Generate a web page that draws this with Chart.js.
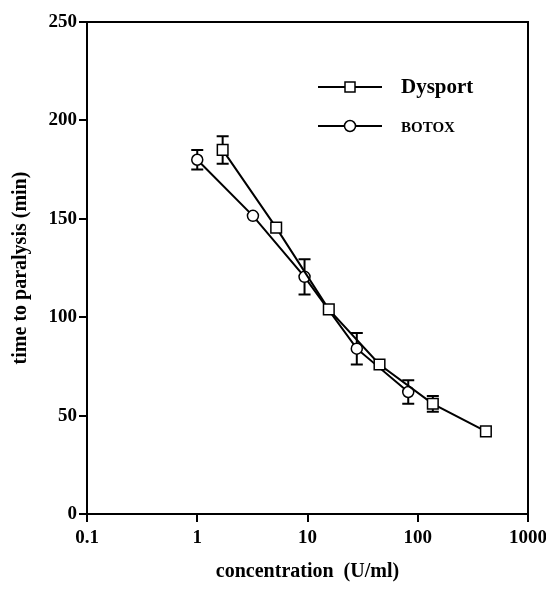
<!DOCTYPE html>
<html>
<head>
<meta charset="utf-8">
<script src="https://cdn.jsdelivr.net/npm/chart.js@4/dist/chart.umd.min.js"></script>
<style>
  html, body { margin: 0; padding: 0; background: #fff; }
  #wrap { width: 546px; height: 592px; }
</style>
</head>
<body>
<div id="wrap"><canvas id="c" width="546" height="592"></canvas></div>
<script>
// ---- data ----
const xTicks = [0.1, 1, 10, 100, 1000];
const yTicks = [0, 50, 100, 150, 200, 250];

const dysportConc = [1.7, 5.2, 15.6, 45, 137, 415];
const dysportTime = [185, 145.5, 104, 76, 56, 42];
const dysportErr  = [7, 0, 0, 0, 4, 0];

const botoxConc = [1.0, 3.2, 9.4, 28, 82];
const botoxTime = [180, 151.5, 120.5, 84, 62];
const botoxErr  = [5, 0, 9, 8, 6];

const seriesNames = ['Dysport', 'BOTOX'];

const FONT = '"Liberation Serif", "Times New Roman", serif';

function pts(xs, ys) { return xs.map((x, i) => ({ x: x, y: ys[i] })); }

const frame = {
  id: 'frame',
  afterDraw(chart) {
    const { ctx, chartArea: a } = chart;
    ctx.save();
    ctx.strokeStyle = '#000';
    ctx.lineWidth = 2;
    ctx.beginPath();
    ctx.moveTo(a.left, a.top);
    ctx.lineTo(a.right, a.top);
    ctx.lineTo(a.right, a.bottom);
    ctx.stroke();
    ctx.restore();
  }
};

const errorBars = {
  id: 'errorBars',
  beforeDatasetsDraw(chart) {
    const { ctx } = chart;
    const xs = chart.scales.x, ys = chart.scales.y;
    const sets = [[dysportConc, dysportTime, dysportErr], [botoxConc, botoxTime, botoxErr]];
    ctx.save();
    ctx.strokeStyle = '#000';
    ctx.lineWidth = 2;
    sets.forEach(([cx, ty, er]) => {
      cx.forEach((c, i) => {
        if (!er[i]) return;
        const px = xs.getPixelForValue(c);
        const top = ys.getPixelForValue(ty[i] + er[i]);
        const bot = ys.getPixelForValue(ty[i] - er[i]);
        ctx.beginPath();
        ctx.moveTo(px, top); ctx.lineTo(px, bot);
        ctx.moveTo(px - 6, top); ctx.lineTo(px + 6, top);
        ctx.moveTo(px - 6, bot); ctx.lineTo(px + 6, bot);
        ctx.stroke();
      });
    });
    ctx.restore();
  }
};

const legendBox = {
  id: 'legendBox',
  afterDraw(chart) {
    const { ctx } = chart;
    ctx.save();
    ctx.strokeStyle = '#000';
    ctx.lineWidth = 2;
    ctx.fillStyle = '#000';
    // Dysport
    let y = 87;
    ctx.beginPath(); ctx.moveTo(318, y); ctx.lineTo(382, y); ctx.stroke();
    ctx.fillStyle = '#fff';
    ctx.fillRect(345, y - 5, 10, 10);
    ctx.lineWidth = 1.5;
    ctx.strokeRect(345, y - 5, 10, 10);
    ctx.fillStyle = '#000';
    ctx.font = 'bold 21px ' + FONT;
    ctx.textBaseline = 'middle';
    ctx.fillText(seriesNames[0], 401, y + 1);
    // BOTOX
    y = 126;
    ctx.lineWidth = 2;
    ctx.beginPath(); ctx.moveTo(318, y); ctx.lineTo(382, y); ctx.stroke();
    ctx.beginPath(); ctx.arc(350, y, 5.5, 0, Math.PI * 2);
    ctx.fillStyle = '#fff'; ctx.fill();
    ctx.lineWidth = 1.5; ctx.stroke();
    ctx.fillStyle = '#000';
    ctx.font = 'bold 15px ' + FONT;
    ctx.fillText(seriesNames[1], 401, y + 2);
    ctx.restore();
  }
};

new Chart(document.getElementById('c'), {
  type: 'line',
  data: {
    datasets: [
      {
        label: seriesNames[0],
        data: pts(dysportConc, dysportTime),
        borderColor: '#000', borderWidth: 2,
        pointStyle: 'rect', pointRadius: 7.5,
        pointBackgroundColor: '#fff', pointBorderColor: '#000', pointBorderWidth: 1.5,
        tension: 0
      },
      {
        label: seriesNames[1],
        data: pts(botoxConc, botoxTime),
        borderColor: '#000', borderWidth: 2,
        pointStyle: 'circle', pointRadius: 5.5,
        pointBackgroundColor: '#fff', pointBorderColor: '#000', pointBorderWidth: 1.5,
        tension: 0
      }
    ]
  },
  options: {
    responsive: false,
    devicePixelRatio: 1,
    animation: false,
    layout: { padding: { top: 22, right: 18, left: 0, bottom: 0 } },
    plugins: { legend: { display: false }, tooltip: { enabled: false } },
    scales: {
      x: {
        type: 'logarithmic',
        min: 0.1, max: 1000,
        afterBuildTicks: (s) => { s.ticks = xTicks.map(v => ({ value: v })); },
        afterFit: (s) => { s.height = 78; s.paddingLeft = 0; s.paddingRight = 0; },
        border: { display: true, color: '#000', width: 2 },
        grid: { display: true, drawOnChartArea: false, drawTicks: true, tickLength: 8, color: '#000', lineWidth: 2 },
        ticks: {
          color: '#000', padding: 5, maxRotation: 0, autoSkip: false,
          font: { family: FONT, size: 19, weight: 'bold' },
          callback: (v) => String(v)
        },
        title: {
          display: true, text: 'concentration  (U/ml)', color: '#000',
          font: { family: FONT, size: 20, weight: 'bold' },
          padding: { top: 0, bottom: 8 }
        }
      },
      y: {
        min: 0, max: 250,
        afterBuildTicks: (s) => { s.ticks = yTicks.map(v => ({ value: v })); },
        afterFit: (s) => { s.width = 87; s.paddingTop = 0; s.paddingBottom = 0; },
        border: { display: true, color: '#000', width: 2 },
        grid: { display: true, drawOnChartArea: false, drawTicks: true, tickLength: 8, color: '#000', lineWidth: 2 },
        ticks: {
          color: '#000', padding: 2,
          font: { family: FONT, size: 19, weight: 'bold' }
        },
        title: {
          display: true, text: 'time to paralysis (min)', color: '#000',
          font: { family: FONT, size: 20, weight: 'bold' },
          padding: { top: 9, bottom: 0 }
        }
      }
    }
  },
  plugins: [errorBars, frame, legendBox]
});
</script>
</body>
</html>
